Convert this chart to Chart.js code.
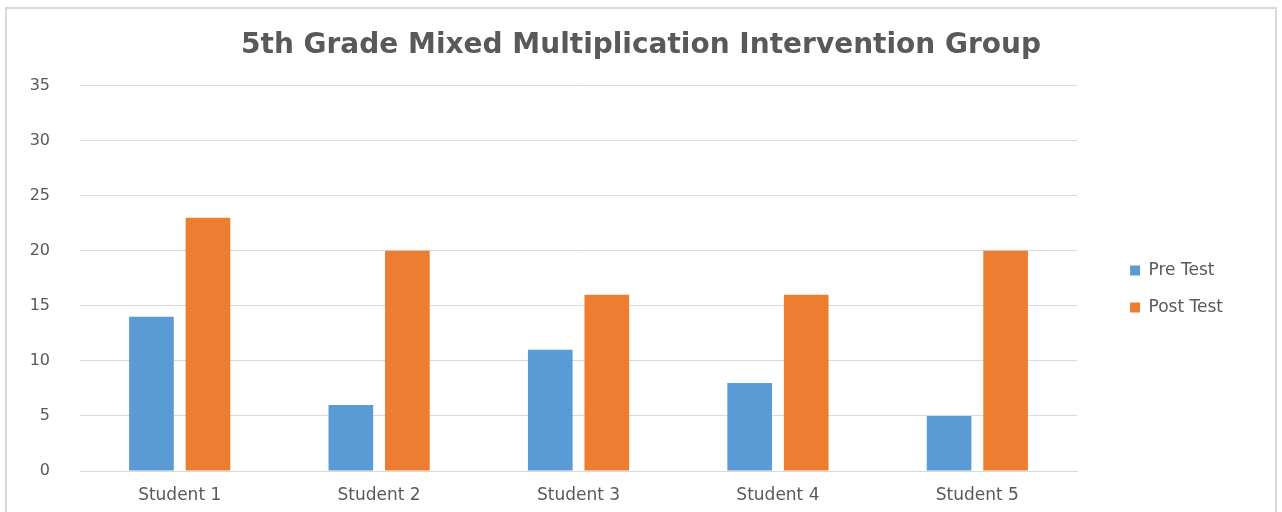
<!DOCTYPE html>
<html lang="en">
<head>
    <meta charset="UTF-8">
    <title>5th Grade Mixed Multiplication Intervention Group</title>
    <script src="https://cdn.jsdelivr.net/npm/chart.js"></script>
    <style>
        html, body { margin: 0; padding: 0; background: #fff; overflow: hidden; }
        .frame {
            position: absolute; left: 5px; top: 7px;
            width: 1268px; height: 560px;
            border: 2px solid #d9d9d9;
        }
    </style>
</head>
<body>
    <div class="frame">
        <canvas id="gradeChart" width="1268" height="560"></canvas>
    </div>
    <script>
        // data
        const students = ['Student 1', 'Student 2', 'Student 3', 'Student 4', 'Student 5'];
        const preTest = [14, 6, 11, 8, 5];
        const postTest = [23, 20, 16, 16, 20];

        const textColor = '#595959';
        const gridColor = '#d9d9d9';

        // right padding pulls the title off centre, give it the full width back
        const centreTitle = {
            id: 'centreTitle',
            afterLayout(chart) {
                const t = chart.titleBlock;
                t.right = chart.width;
                t.width = t.right - t.left;
            }
        };

        new Chart(document.getElementById('gradeChart'), {
            type: 'bar',
            data: {
                labels: students,
                datasets: [
                    { label: 'Pre Test', data: preTest, backgroundColor: '#5b9bd5' },
                    { label: 'Post Test', data: postTest, backgroundColor: '#ed7d31' }
                ]
            },
            options: {
                responsive: false,
                animation: false,
                categoryPercentage: 0.567,
                barPercentage: 0.79,
                layout: { padding: { left: 0, right: 42, top: 0, bottom: 0 } },
                plugins: {
                    title: {
                        display: true,
                        text: '5th Grade Mixed Multiplication Intervention Group',
                        color: textColor,
                        font: { family: 'DejaVu Sans', size: 28, weight: 'bold' },
                        padding: { top: 20, bottom: 23 }
                    },
                    legend: {
                        position: 'right',
                        labels: {
                            color: textColor,
                            boxWidth: 10,
                            boxHeight: 10,
                            padding: 20,
                            font: { family: 'DejaVu Sans', size: 17 }
                        }
                    },
                    tooltip: { enabled: false }
                },
                scales: {
                    x: {
                        grid: { display: false },
                        border: { color: gridColor },
                        ticks: {
                            color: textColor,
                            padding: 6,
                            font: { family: 'DejaVu Sans', size: 17 }
                        },
                        afterFit: s => { s.height = 98; }
                    },
                    y: {
                        min: 0,
                        max: 35,
                        border: { display: false },
                        grid: { color: gridColor, drawTicks: false },
                        ticks: {
                            stepSize: 5,
                            color: textColor,
                            padding: 30,
                            font: { family: 'DejaVu Sans', size: 16 }
                        },
                        afterFit: s => { s.width = 73; }
                    },
                    // empty axis that only keeps the gap between plot and legend
                    gap: {
                        type: 'linear',
                        position: 'right',
                        grid: { display: false },
                        border: { display: false },
                        ticks: { display: false },
                        afterFit: s => { s.width = 33; }
                    }
                }
            },
            plugins: [centreTitle]
        });
    </script>
</body>
</html>
